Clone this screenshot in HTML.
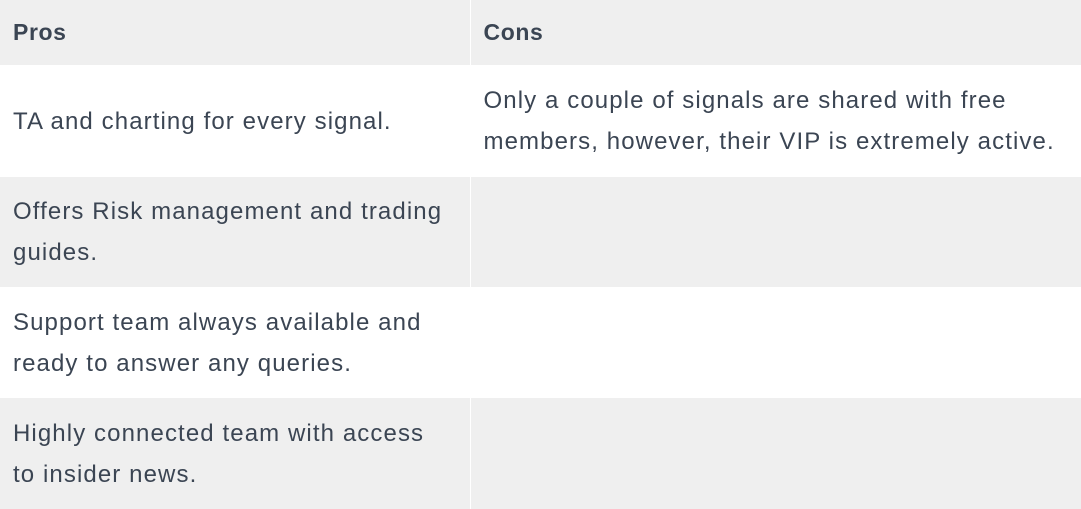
<!DOCTYPE html>
<html><head><meta charset="utf-8"><style>
html,body{margin:0;padding:0;width:1081px;height:509px;overflow:hidden;background:#fff}
table{border-collapse:collapse;width:1081px;table-layout:fixed;font-family:"Liberation Sans",sans-serif;font-size:24px;color:#3b4553;line-height:41px;letter-spacing:1.1px}
td,th{vertical-align:middle;padding:0 0 0 13px;text-align:left;white-space:nowrap}
th{font-weight:bold;height:65px;background:#efefef;font-size:23px;letter-spacing:0.6px}
tr.g td{background:#efefef}
td.c,th.c{border-left:1px solid #fff;padding-left:13px}
</style></head><body>
<table>
<colgroup><col style="width:470px"><col style="width:611px"></colgroup>
<tr><th>Pros</th><th class="c">Cons</th></tr>
<tr style="height:112px"><td>TA and charting for every signal.</td><td class="c">Only a couple of signals are shared with free<br>members, however, their VIP is extremely active.</td></tr>
<tr class="g" style="height:110px"><td>Offers Risk management and trading<br>guides.</td><td class="c"></td></tr>
<tr style="height:111px"><td>Support team always available and<br>ready to answer any queries.</td><td class="c"></td></tr>
<tr class="g" style="height:111px"><td>Highly connected team with access<br>to insider news.</td><td class="c"></td></tr>
</table>
</body></html>
